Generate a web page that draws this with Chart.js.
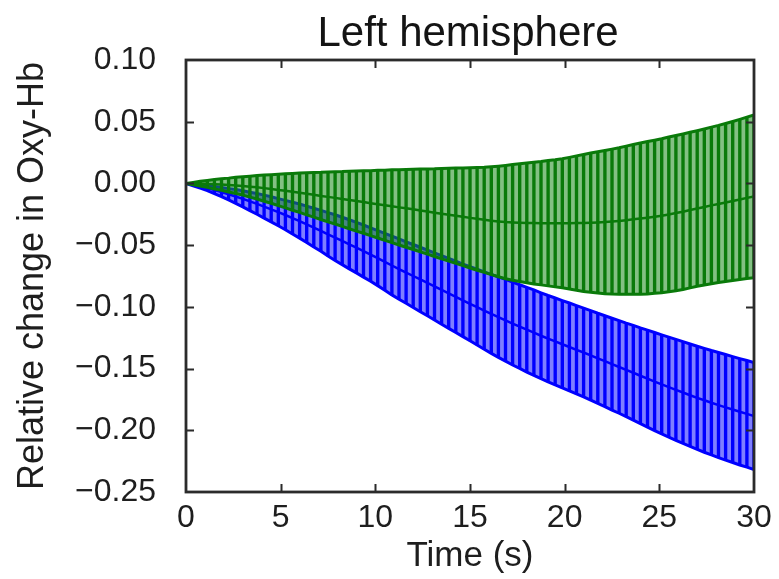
<!DOCTYPE html>
<html>
<head>
<meta charset="utf-8">
<script src="https://cdn.jsdelivr.net/npm/chart.js@4.4.1/dist/chart.umd.min.js"></script>
<style>
  html, body { margin: 0; padding: 0; background: #ffffff; }
  #wrap { width: 779px; height: 579px; }
</style>
</head>
<body>
<div id="wrap"><canvas id="c" width="779" height="579"></canvas></div>
<script>
const chartTitle = 'Left hemisphere';
const xTitle = 'Time (s)';
const yTitle = 'Relative change in Oxy-Hb';

const xTicks = [0, 5, 10, 15, 20, 25, 30];
const yTicks = [0.10, 0.05, 0.00, -0.05, -0.10, -0.15, -0.20, -0.25];

const times = [0,0.375,0.75,1.125,1.5,1.875,2.25,2.625,3,3.375,3.75,4.125,4.5,4.875,5.25,5.625,6,6.375,6.75,7.125,7.5,7.875,8.25,8.625,9,9.375,9.75,10.125,10.5,10.875,11.25,11.625,12,12.375,12.75,13.125,13.5,13.875,14.25,14.625,15,15.375,15.75,16.125,16.5,16.875,17.25,17.625,18,18.375,18.75,19.125,19.5,19.875,20.25,20.625,21,21.375,21.75,22.125,22.5,22.875,23.25,23.625,24,24.375,24.75,25.125,25.5,25.875,26.25,26.625,27,27.375,27.75,28.125,28.5,28.875,29.25,29.625,30];

const greenMean = [0,-0.0001,-0.0002,-0.0004,-0.0007,-0.0009,-0.0013,-0.0016,-0.002,-0.0026,
  -0.0031,-0.0038,-0.0045,-0.0053,-0.006,-0.0068,-0.0075,-0.0084,-0.0092,-0.0101,
  -0.0109,-0.0117,-0.0126,-0.0134,-0.0143,-0.0151,-0.016,-0.0168,-0.0177,-0.0185,
  -0.0194,-0.0202,-0.021,-0.0219,-0.0228,-0.0237,-0.0245,-0.0253,-0.0262,-0.027,
  -0.0279,-0.0287,-0.0295,-0.0302,-0.0308,-0.0313,-0.0316,-0.0318,-0.032,-0.0321,
  -0.0322,-0.0322,-0.0323,-0.0323,-0.0322,-0.0321,-0.032,-0.0318,-0.0316,-0.0313,
  -0.0309,-0.0304,-0.0298,-0.0291,-0.0285,-0.0278,-0.027,-0.0262,-0.0251,-0.024,
  -0.0229,-0.0216,-0.0203,-0.0191,-0.0178,-0.0166,-0.0154,-0.0142,-0.013,-0.0117,-0.0105];

const greenErr = [0,0.0009,0.0019,0.0028,0.0038,0.0047,0.0056,0.0066,0.0075,0.0085,
  0.0095,0.0106,0.0116,0.0127,0.0138,0.0149,0.016,0.0171,0.0181,0.0191,
  0.0202,0.0212,0.0222,0.0233,0.0243,0.0253,0.0263,0.0274,0.0284,0.0295,
  0.0305,0.0315,0.0325,0.0335,0.0345,0.0355,0.0366,0.0376,0.0386,0.0396,
  0.0406,0.0416,0.0426,0.0437,0.0448,0.0459,0.0469,0.0477,0.0485,0.0493,
  0.05,0.0508,0.0515,0.0523,0.0533,0.0544,0.0555,0.0564,0.0572,0.058,
  0.0587,0.0593,0.06,0.0606,0.0613,0.0617,0.062,0.0624,0.0627,0.0629,
  0.063,0.063,0.063,0.0632,0.0634,0.0636,0.064,0.0644,0.0649,0.0654,0.066];

const blueMean = [0,-0.0012,-0.0025,-0.0038,-0.0054,-0.007,-0.0088,-0.0106,-0.0125,-0.0146,
  -0.0166,-0.0188,-0.021,-0.0233,-0.0256,-0.0281,-0.0305,-0.0331,-0.0358,-0.0384,
  -0.0412,-0.0439,-0.0466,-0.0493,-0.052,-0.0548,-0.0576,-0.0605,-0.0635,-0.0665,
  -0.0694,-0.0722,-0.075,-0.0778,-0.0806,-0.0834,-0.0863,-0.0891,-0.0919,-0.0947,
  -0.0975,-0.1002,-0.103,-0.1057,-0.1083,-0.1109,-0.1135,-0.116,-0.1185,-0.1209,
  -0.1234,-0.1258,-0.128,-0.1303,-0.1325,-0.1348,-0.137,-0.1393,-0.1417,-0.144,
  -0.1464,-0.1487,-0.1511,-0.1534,-0.1558,-0.1581,-0.1605,-0.1628,-0.165,-0.1673,
  -0.1694,-0.1716,-0.1737,-0.1757,-0.1777,-0.1796,-0.1814,-0.1832,-0.185,-0.1867,-0.1885];

const blueErr = [0,0.0007,0.0013,0.002,0.0029,0.0037,0.0046,0.0056,0.0065,0.0074,
  0.0084,0.0093,0.0102,0.011,0.0119,0.0129,0.0138,0.0147,0.0157,0.0166,
  0.0176,0.0185,0.0192,0.0199,0.0205,0.0211,0.0216,0.0223,0.023,0.0238,
  0.0244,0.0249,0.0255,0.0261,0.0266,0.0272,0.0278,0.0283,0.0289,0.0294,
  0.03,0.0307,0.0314,0.032,0.0326,0.0331,0.0336,0.0339,0.0343,0.0346,
  0.0348,0.035,0.0352,0.0354,0.0356,0.0358,0.036,0.0363,0.0365,0.0368,
  0.0372,0.0375,0.0379,0.0384,0.0388,0.0393,0.0397,0.0401,0.0405,0.0409,
  0.0412,0.0415,0.0418,0.0421,0.0423,0.0426,0.0428,0.0429,0.0431,0.0432,0.0433];

// ---- derived point lists ----
const pts = (arr) => times.map((t, i) => ({ x: t, y: arr[i] }));
const upper = (m, e) => times.map((t, i) => ({ x: t, y: m[i] + e[i] }));
const lower = (m, e) => times.map((t, i) => ({ x: t, y: m[i] - e[i] }));
const bars = (m, e) => times.map((t, i) => ({ x: t, y: [m[i] - e[i], m[i] + e[i]] }));

const GREEN = '#0a7a0a';
const GREEN_FILL = 'rgba(30,140,30,0.55)';
const BLUE = '#0000ff';
const BLUE_FILL = 'rgba(0,0,255,0.5)';

const lineBase = { type: 'line', pointRadius: 0, tension: 0, fill: false };
const barBase = { type: 'bar', barThickness: 2.7, grouped: false, borderWidth: 0 };

const fmtY = (v) => {
  if (Math.abs(v) < 1e-9) return '0.00';
  const s = Math.abs(v).toFixed(2);
  return v < 0 ? '\u2212' + s : s;
};

const FONT = "'Liberation Sans', Arial, sans-serif";

const framePlugin = {
  id: 'frame',
  afterDatasetsDraw(chart) {
    const { ctx, chartArea: a, scales } = chart;
    const x = scales.x, y = scales.y;
    const L = 8;
    ctx.save();
    ctx.strokeStyle = '#2b2b2b';
    ctx.lineWidth = 2;
    ctx.beginPath();
    xTicks.forEach(v => {
      if (v <= 0 || v >= 30) return;
      const px = Math.round(x.getPixelForValue(v)) + 0.5;
      ctx.moveTo(px, a.bottom); ctx.lineTo(px, a.bottom - L);
      ctx.moveTo(px, a.top); ctx.lineTo(px, a.top + L);
    });
    yTicks.forEach(v => {
      if (v >= 0.1 - 1e-9 || v <= -0.25 + 1e-9) return;
      const py = Math.round(y.getPixelForValue(v)) + 0.5;
      ctx.moveTo(a.left, py); ctx.lineTo(a.left + L, py);
      ctx.moveTo(a.right, py); ctx.lineTo(a.right - L, py);
    });
    ctx.stroke();
    ctx.lineWidth = 2.8;
    ctx.strokeRect(a.left, a.top, a.right - a.left, a.bottom - a.top);
    ctx.restore();
  },
  afterDraw(chart) {
    const { ctx, chartArea: a } = chart;
    ctx.save();
    ctx.fillStyle = '#141414';
    ctx.font = "42px " + FONT;
    ctx.textAlign = 'center';
    ctx.textBaseline = 'alphabetic';
    ctx.fillText(chartTitle, (a.left + a.right) / 2 - 2, 46);
    ctx.restore();
  }
};

new Chart(document.getElementById('c'), {
  type: 'bar',
  data: {
    datasets: [
      Object.assign({}, lineBase, { data: upper(blueMean, blueErr), borderColor: BLUE, borderWidth: 3,
        backgroundColor: BLUE_FILL, fill: '+1', order: 10 }),
      Object.assign({}, lineBase, { data: lower(blueMean, blueErr), borderColor: BLUE, borderWidth: 3, order: 8 }),
      Object.assign({}, barBase, { data: bars(blueMean, blueErr), backgroundColor: BLUE, order: 9 }),
      Object.assign({}, lineBase, { data: pts(blueMean), borderColor: BLUE, borderWidth: 2.5, order: 7 }),
      Object.assign({}, lineBase, { data: upper(greenMean, greenErr), borderColor: GREEN, borderWidth: 3,
        backgroundColor: GREEN_FILL, fill: '+1', order: 6 }),
      Object.assign({}, lineBase, { data: lower(greenMean, greenErr), borderColor: GREEN, borderWidth: 3, order: 4 }),
      Object.assign({}, barBase, { data: bars(greenMean, greenErr), backgroundColor: GREEN, order: 5 }),
      Object.assign({}, lineBase, { data: pts(greenMean), borderColor: GREEN, borderWidth: 2.5, order: 3 })
    ]
  },
  options: {
    responsive: false,
    animation: false,
    devicePixelRatio: 1,
    layout: { padding: { left: 0, right: 25, top: 60, bottom: 0 } },
    plugins: {
      legend: { display: false },
      tooltip: { enabled: false },
      title: { display: false }
    },
    scales: {
      x: {
        type: 'linear',
        min: 0, max: 30,
        offset: false,
        grid: { display: false, drawTicks: false },
        border: { display: false },
        afterBuildTicks: (s) => { s.ticks = xTicks.map(v => ({ value: v })); },
        afterFit: (s) => { s.height = 87; },
        ticks: {
          color: '#1e1e1e',
          font: { family: FONT, size: 32 },
          padding: 7,
          maxRotation: 0,
          autoSkip: false,
          callback: (v) => String(v)
        },
        title: {
          display: true,
          text: xTitle,
          color: '#1e1e1e',
          font: { family: FONT, size: 35 },
          padding: { top: 0, bottom: 2 }
        }
      },
      y: {
        type: 'linear',
        min: -0.25, max: 0.10,
        grid: { display: false, drawTicks: false },
        border: { display: false },
        afterBuildTicks: (s) => { s.ticks = yTicks.map(v => ({ value: v })); },
        afterFit: (s) => { s.width = 186; },
        ticks: {
          color: '#1e1e1e',
          font: { family: FONT, size: 32 },
          padding: 30,
          autoSkip: false,
          callback: (v) => fmtY(v)
        },
        title: {
          display: true,
          text: yTitle,
          color: '#1e1e1e',
          font: { family: FONT, size: 36 },
          padding: { top: 11, bottom: 0 }
        }
      }
    }
  },
  plugins: [framePlugin]
});
</script>
</body>
</html>
